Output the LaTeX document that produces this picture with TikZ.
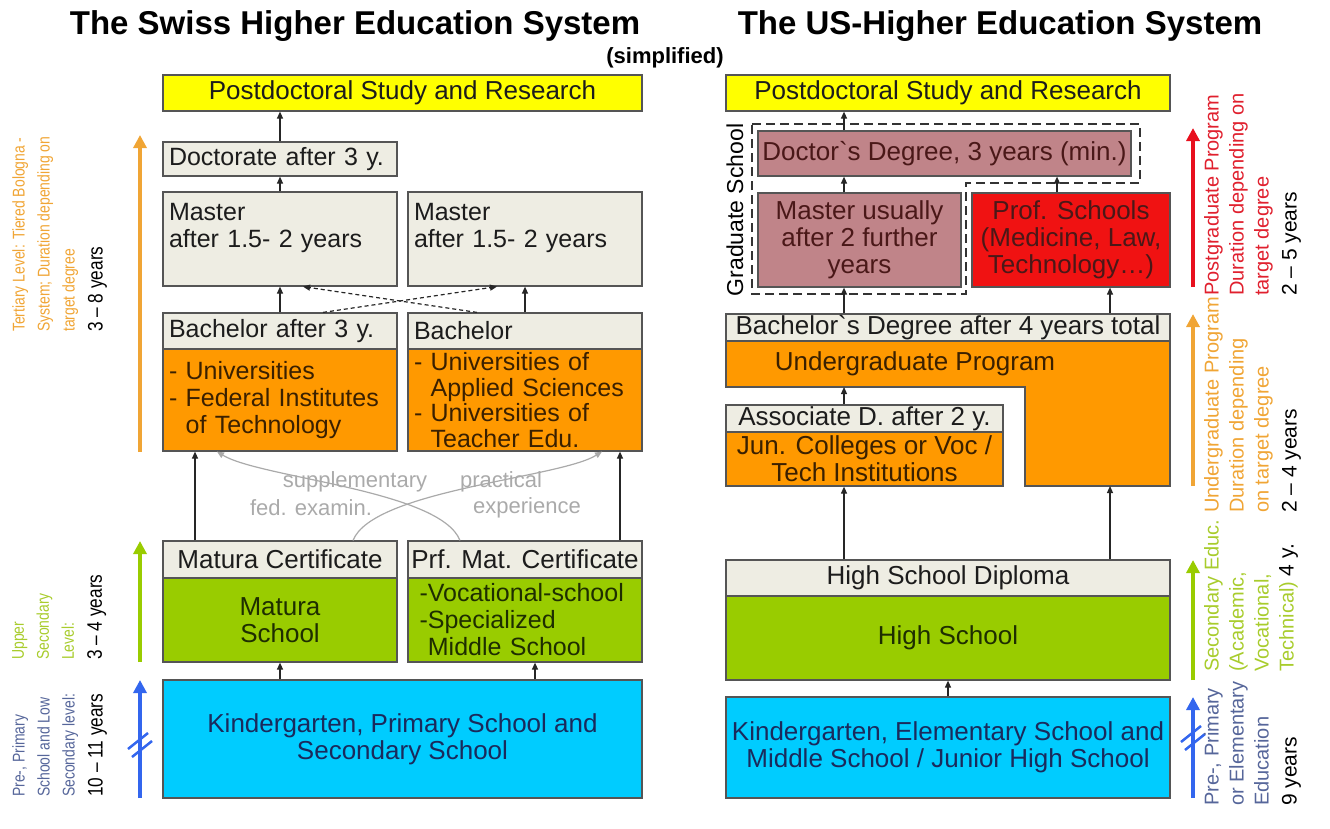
\documentclass[tikz,border=0pt]{standalone}
\usepackage{fontspec}
\setmainfont{Liberation Sans}
\newfontfamily\narrowfont[FakeStretch=0.82]{Liberation Sans}
\usetikzlibrary{arrows.meta}
\definecolor{beige}{HTML}{EEEDE3}
\definecolor{orng}{HTML}{FF9900}
\definecolor{grn}{HTML}{99CC00}
\definecolor{sky}{HTML}{00CCFF}
\definecolor{yel}{HTML}{FFFF00}
\definecolor{rose}{HTML}{C08489}
\definecolor{redbox}{HTML}{F01212}
\definecolor{boxline}{HTML}{555555}
\definecolor{txt}{HTML}{1C1C1C}
\definecolor{brn}{HTML}{3A2000}
\definecolor{olive}{HTML}{1E2E00}
\definecolor{navy}{HTML}{1A2A5C}
\definecolor{maroon}{HTML}{4A1818}
\definecolor{labor}{HTML}{F0A535}
\definecolor{labgr}{HTML}{A8CC2C}
\definecolor{labbl}{HTML}{56669A}
\definecolor{labrd}{HTML}{E0202E}
\definecolor{arrbl}{HTML}{3366EE}
\definecolor{arrrd}{HTML}{E8101E}
\definecolor{curve}{HTML}{AAAAAA}
\newcommand\yrs{\color{black}\fontsize{21}{25}\selectfont}

\begin{document}
\begin{tikzpicture}[x=1pt,y=-1pt,
    box/.style={draw=boxline,line width=1.2pt,inner sep=0pt,text=txt,font=\fontsize{26}{27}\selectfont},
    hd/.style={box,fill=beige,minimum width=234pt},
    lft/.style={text width=222pt,inner xsep=6pt,align=left,font=\fontsize{25}{27}\selectfont},
    conn/.style={-{Triangle[width=6pt,length=7pt]},line width=1.2pt,draw=black!85},
    dconn/.style={conn,dash pattern=on 4pt off 3pt},
    gconn/.style={-{Triangle[width=6pt,length=7pt]},line width=1.2pt,draw=curve},
    glab/.style={text=curve,font=\fontsize{22}{24}\selectfont},
    lab/.style={rotate=90,anchor=north west,inner sep=0pt,align=left,font=\narrowfont\fontsize{17}{25}\selectfont},
    labr/.style={lab,font=\fontsize{20}{25}\selectfont},
    bar/.style={line width=4pt,-{Triangle[width=13pt,length=13pt]}}]
    \useasboundingbox (0,0) rectangle (1330,828);
    % titles
    \node[font=\bfseries\fontsize{33}{36}\selectfont] (titleCH) at (355,26) {The Swiss Higher Education System};
    \node[font=\bfseries\fontsize{33}{36}\selectfont] (titleUS) at (1000,26) {The US-Higher Education System};
    \node[font=\bfseries\fontsize{22}{24}\selectfont] (simpl) at (665,58) {(simplified)};
    % Swiss system
    \node[box,fill=yel,minimum width=479pt,minimum height=36pt] (chPost) at (402.5,93) {Postdoctoral Study and Research};
    \node[hd,lft,minimum height=34pt] (chDoc) at (280,159) {Doctorate after 3 y.};
    \node[hd,lft,minimum height=94pt] (chMasA) at (280,239) {Master\\after 1.5- 2 years\\\mbox{}};
    \node[hd,lft,minimum height=94pt] (chMasB) at (525,239) {Master\\after 1.5- 2 years\\\mbox{}};
    \node[hd,lft,minimum height=36pt] (chBacA) at (280,331) {Bachelor after 3 y.};
    \node[hd,lft,minimum height=36pt] (chBacB) at (525,331) {Bachelor};
    \node[hd,lft,fill=orng,text=brn,minimum height=102pt] (chUniA) at (280,400)
        {- Universities\\- Federal Institutes\\\phantom{- }of Technology};
    \node[hd,lft,fill=orng,text=brn,minimum height=102pt,font=\fontsize{25}{25.5}\selectfont] (chUniB) at (525,400)
        {- Universities of\\\phantom{- }Applied Sciences\\- Universities of\\\phantom{- }Teacher Edu.};
    \node[hd,minimum height=37pt] (chMatC) at (280,559.5) {Matura Certificate};
    \node[hd,minimum height=37pt] (chPrfC) at (525,559.5) {Prf. Mat. Certificate};
    \node[hd,fill=grn,text=olive,minimum height=84pt,align=center] (chMatS) at (280,620) {Matura\\School};
    \node[hd,lft,fill=grn,text=olive,minimum height=84pt] (chPrfS) at (525,620)
        {\phantom{i}-Vocational-school\\\phantom{i}-Specialized\\\phantom{i-}Middle School};
    \node[box,fill=sky,text=navy,minimum width=479pt,minimum height=118pt,align=center] (chKg) at (402.5,739)
        {Kindergarten, Primary School and\\Secondary School};
    \coordinate (chColA) at (280,0);
    \coordinate (chColB) at (525,0);
    \coordinate (chColL) at (195,0);
    \coordinate (chColR) at (620,0);
    \coordinate (chColK) at (535,0);
    \foreach \a/\b/\c in {chDoc/chPost/chColA,chMasA/chDoc/chColA,chBacA/chMasA/chColA,chBacB/chMasB/chColB,
        chMatC/chUniA/chColL,chPrfC/chUniB/chColR,chKg/chMatS/chColA,chKg/chPrfS/chColK}{
        \draw[conn] (\a.north -| \c) -- (\b.south -| \c);
    }
    \draw[dconn] ([xshift=43pt]chBacA.north) -- ([xshift=-28pt]chMasB.south);
    \draw[dconn] ([xshift=-48pt]chBacB.north) -- ([xshift=23pt]chMasA.south);
    \draw[gconn] ([xshift=73pt]chMatC.north) .. controls (373,490) and (560,478) .. ([xshift=77pt]chUniB.south);
    \draw[gconn] ([xshift=-65pt]chPrfC.north) .. controls (440,490) and (260,478) .. ([xshift=-63pt]chUniA.south);
    \node[glab] (chSup) at (355,482) {supplementary};
    \node[glab] (chPrac) at (501,482) {practical};
    \node[glab] (chFed) at (311,508) {fed. examin.};
    \node[glab] (chExp) at (527,508) {experience};
    % US system
    \node[box,fill=yel,minimum width=444pt,minimum height=36pt] (usPost) at (948,93) {Postdoctoral Study and Research};
    \node[box,fill=rose,text=maroon,minimum width=373pt,minimum height=45pt] (usDoc) at (944.5,153.5)
        {Doctor\textasciigrave s Degree, 3 years (min.)};
    \node[box,fill=rose,text=maroon,minimum width=203pt,minimum height=94pt,align=center] (usMas) at (859.5,240)
        {Master usually\\after 2 further\\years};
    \node[box,fill=redbox,text=maroon,minimum width=198pt,minimum height=94pt,align=center] (usProf) at (1071,240)
        {Prof. Schools\\(Medicine, Law,\\Technology\dots)};
    \draw[line width=2.2pt,draw=black!80,dash pattern=on 9pt off 5pt]
        (752,124) -- (1140,124) -- (1140,183) -- (966,183) -- (966,294) -- (752,294) -- cycle;
    \node[rotate=90,font=\fontsize{23}{25}\selectfont] (grad) at (735,210) {Graduate School};
    \draw[draw=boxline,line width=1.2pt,fill=orng]
        (726,341) -- (1170,341) -- (1170,486) -- (1025,486) -- (1025,387) -- (726,387) -- cycle;
    \node[box,draw=none,text=brn] (usUgp) at (915,364) {Undergraduate Program};
    \node[box,fill=beige,minimum width=444pt,minimum height=27pt] (usBac) at (948,327.5)
        {Bachelor\textasciigrave s Degree after 4 years total};
    \node[box,fill=beige,minimum width=277pt,minimum height=27pt] (usAsc) at (864.5,418.5) {Associate D. after 2 y.};
    \node[box,fill=orng,text=brn,minimum width=277pt,minimum height=54pt,align=center] (usJun) at (864.5,459)
        {Jun. Colleges or Voc /\\Tech Institutions};
    \node[box,fill=beige,minimum width=444pt,minimum height=36pt] (usDip) at (948,578) {High School Diploma};
    \node[box,fill=grn,text=olive,minimum width=444pt,minimum height=84pt] (usHs) at (948,638) {High School};
    \node[box,fill=sky,text=navy,minimum width=444pt,minimum height=101pt,align=center] (usKg) at (948,747.5)
        {Kindergarten, Elementary School and\\Middle School / Junior High School};
    \coordinate (usColA) at (844,0);
    \coordinate (usColB) at (1057,0);
    \coordinate (usColC) at (1110,0);
    \coordinate (usUgpA) at (844,387);
    \coordinate (usUgpB) at (1110,486);
    \foreach \a/\b/\c in {usDoc/usPost/usColA,usMas/usDoc/usColA,usProf/usDoc/usColB,
        usBac/usMas/usColA,usBac/usProf/usColC,usDip/usJun/usColA}{
        \draw[conn] (\a.north -| \c) -- (\b.south -| \c);
    }
    \draw[conn] (usAsc.north -| usUgpA) -- (usUgpA);
    \draw[conn] (usDip.north -| usUgpB) -- (usUgpB);
    \draw[conn] (usKg.north) -- (usHs.south);
    % level bars
    \draw[bar,labor] (140,452) -- (140,135);
    \draw[bar,grn] (140,662) -- (140,541);
    \draw[bar,arrbl] (140,798) -- (140,680);
    \draw[bar,arrrd] (1193,287) -- (1193,128);
    \draw[bar,labor] (1193,486) -- (1193,314);
    \draw[bar,grn] (1193,680) -- (1193,560);
    \draw[bar,arrbl] (1193,798) -- (1193,697);
    \foreach \x/\y in {140/745,1193/738}{
        \draw[arrbl,line width=2.5pt] (\x-12,\y+4) -- (\x+8,\y-12);
        \draw[arrbl,line width=2.5pt] (\x-8,\y+12) -- (\x+12,\y-4);
    }
    % level labels
    \node[lab,text=labor] (tertLab) at (12,332)
        {Tertiary Level: Tiered Bologna -\\System; Duration depending on\\target degree\\[3pt]{\yrs 3 – 8 years}};
    \node[lab,text=labgr] (uppLab) at (12,660) {Upper\\Secondary\\Level:\\[3pt]{\yrs 3 – 4 years}};
    \node[lab,text=labbl] (preLab) at (12,797)
        {Pre-, Primary\\School and Low\\Secondary level:\\[3pt]{\yrs 10 – 11 years}};
    \node[labr,text=labrd] (pgLab) at (1204,296)
        {Postgraduate Program\\Duration depending on\\target degree\\[3pt]{\yrs 2 – 5 years}};
    \node[labr,text=labor] (ugLab) at (1204,513)
        {Undergraduate Program\\Duration depending\\on target degree\\[3pt]{\yrs 2 – 4 years}};
    \node[labr,text=labgr] (seLab) at (1204,672) {Secondary Educ.\\(Academic,\\Vocational,\\Technical) {\yrs 4 y.}};
    \node[labr,text=labbl] (prLab) at (1204,806) {Pre-, Primary\\or Elementary\\Education\\[3pt]{\yrs 9 years}};
\end{tikzpicture}
\end{document}
